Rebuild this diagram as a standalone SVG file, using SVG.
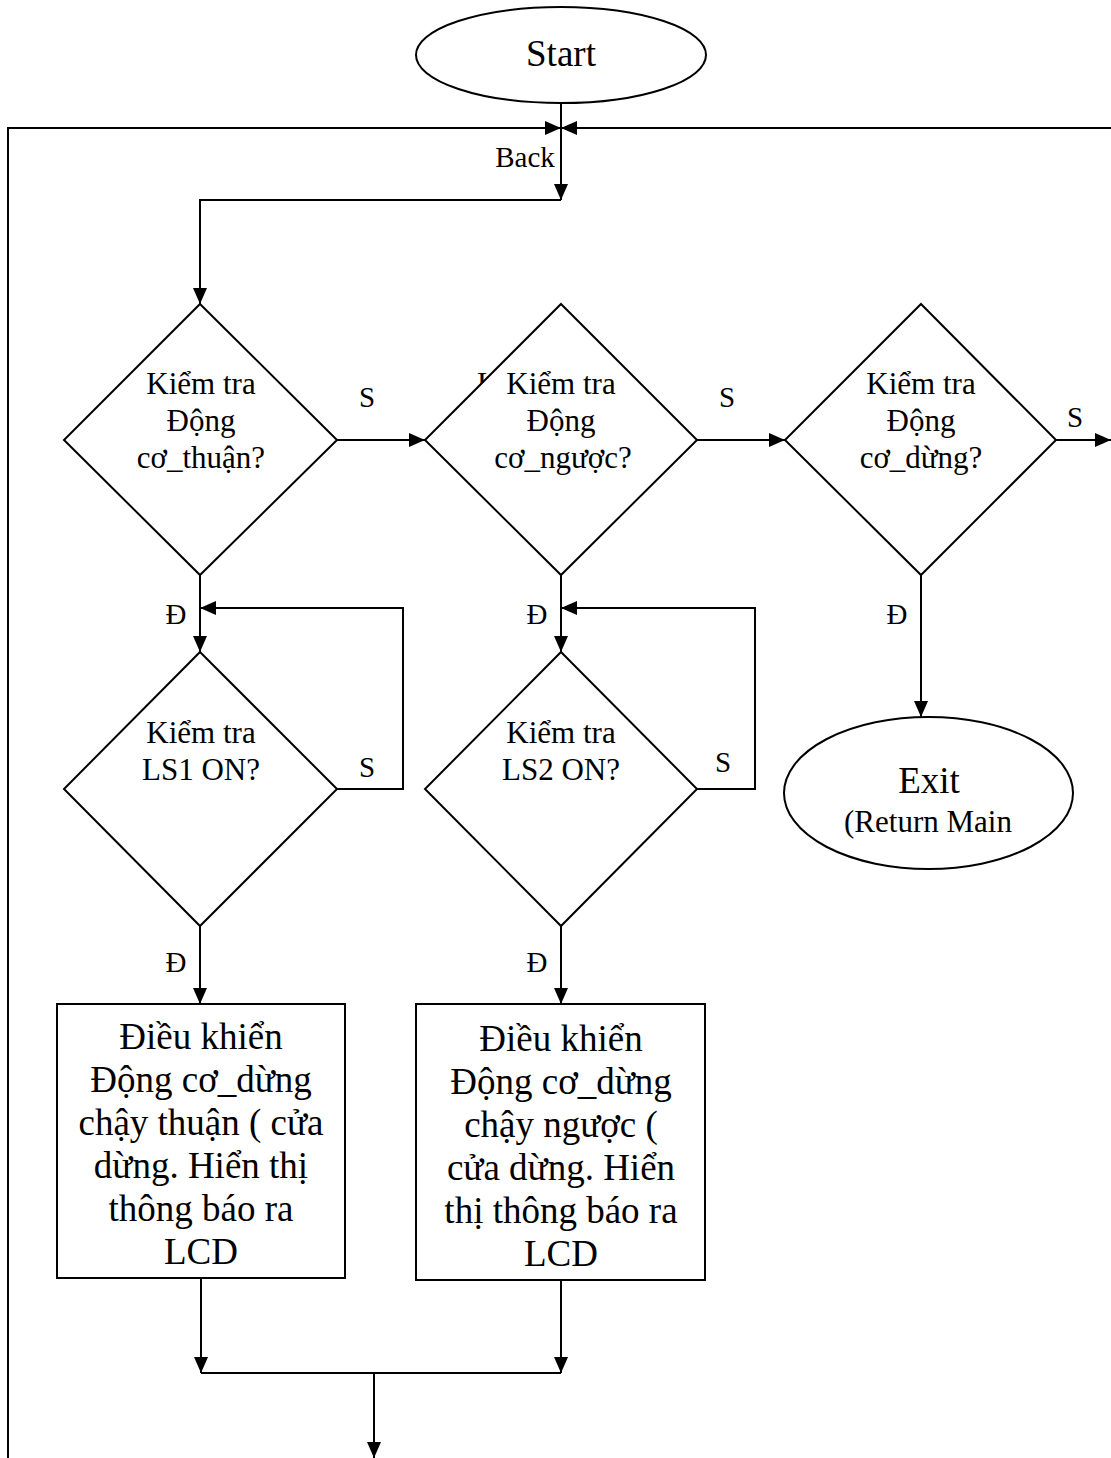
<svg xmlns="http://www.w3.org/2000/svg" width="1111" height="1458" viewBox="0 0 1111 1458">
  <style>
    .shape { fill: #ffffff; stroke: #000000; stroke-width: 2; }
    .line { fill: none; stroke: #000000; stroke-width: 2; }
    text { font-family: "Liberation Serif", "Times New Roman", serif; fill: #000000; }
    .big { font-size: 37px; text-anchor: middle; }
    .mid { font-size: 31px; text-anchor: middle; }
    .lbl { font-size: 29px; text-anchor: middle; }
  </style>
  <defs>
    <marker id="arrow" viewBox="0 0 16 14" markerWidth="16" markerHeight="14" refX="16" refY="7" orient="auto" markerUnits="userSpaceOnUse">
      <path d="M0,0 L16,7 L0,14 z" fill="#000000"/>
    </marker>
  </defs>

  <rect width="1111" height="1458" fill="#ffffff"/>

  <!-- connectors -->
  <g id="connectors">
    <!-- outer return loop -->
    <polyline class="line" points="8,1458 8,128 561,128" marker-end="url(#arrow)"/>
    <line class="line" x1="1111" y1="128" x2="561" y2="128" marker-end="url(#arrow)"/>
    <!-- start down to first check -->
    <line class="line" x1="561" y1="103" x2="561" y2="200" marker-end="url(#arrow)"/>
    <polyline class="line" points="561,200 200,200 200,304" marker-end="url(#arrow)"/>
    <!-- S branches along the top row -->
    <line class="line" x1="337" y1="440" x2="425" y2="440" marker-end="url(#arrow)"/>
    <line class="line" x1="697" y1="440" x2="785" y2="440" marker-end="url(#arrow)"/>
    <line class="line" x1="1056" y1="440" x2="1111" y2="440" marker-end="url(#arrow)"/>
    <!-- D branches down -->
    <line class="line" x1="200" y1="575" x2="200" y2="652" marker-end="url(#arrow)"/>
    <line class="line" x1="561" y1="575" x2="561" y2="652" marker-end="url(#arrow)"/>
    <line class="line" x1="921" y1="575" x2="921" y2="717" marker-end="url(#arrow)"/>
    <!-- limit switch wait loops -->
    <polyline class="line" points="337,789 403,789 403,608 200,608" marker-end="url(#arrow)"/>
    <polyline class="line" points="697,789 755,789 755,608 561,608" marker-end="url(#arrow)"/>
    <!-- to action boxes -->
    <line class="line" x1="200" y1="926" x2="200" y2="1004" marker-end="url(#arrow)"/>
    <line class="line" x1="561" y1="926" x2="561" y2="1004" marker-end="url(#arrow)"/>
    <!-- merge -->
    <line class="line" x1="201" y1="1278" x2="201" y2="1373" marker-end="url(#arrow)"/>
    <line class="line" x1="561" y1="1280" x2="561" y2="1373" marker-end="url(#arrow)"/>
    <line class="line" x1="201" y1="1373" x2="561" y2="1373"/>
    <line class="line" x1="374" y1="1373" x2="374" y2="1458" marker-end="url(#arrow)"/>
  </g>

  <!-- branch labels -->
  <g id="labels">
    <text class="lbl" x="525" y="167" style="text-anchor:middle">Back</text>
    <text class="lbl" x="367" y="407">S</text>
    <text class="lbl" x="727" y="407">S</text>
    <text class="lbl" x="1075" y="427">S</text>
    <text class="lbl" x="367" y="777">S</text>
    <text class="lbl" x="723" y="772">S</text>
    <text class="lbl" x="176" y="624">Đ</text>
    <text class="lbl" x="537" y="624">Đ</text>
    <text class="lbl" x="897" y="624">Đ</text>
    <text class="lbl" x="176" y="972">Đ</text>
    <text class="lbl" x="537" y="972">Đ</text>
  </g>

  <g id="start">
    <ellipse class="shape" cx="561" cy="55" rx="145" ry="48"/>
    <text class="big" x="561" y="66">Start</text>
  </g>

  <g id="check-forward">
    <polygon class="shape" points="200,304 337,440 200,575 64,440"/>
    <text class="mid" x="201" y="394">Kiểm tra</text>
    <text class="mid" x="201" y="431">Động</text>
    <text class="mid" x="201" y="468">cơ_thuận?</text>
  </g>

  <g id="check-reverse">
    <!-- stray letter partly hidden behind the diamond -->
    <text x="477" y="394" style="font-size:31px">K</text>
    <polygon class="shape" points="561,304 697,440 561,575 425,440"/>
    <text class="mid" x="561" y="394">Kiểm tra</text>
    <text class="mid" x="561" y="431">Động</text>
    <text class="mid" x="563" y="468">cơ_ngược?</text>
  </g>

  <g id="check-stop">
    <polygon class="shape" points="921,304 1056,440 921,575 785,440"/>
    <text class="mid" x="921" y="394">Kiểm tra</text>
    <text class="mid" x="921" y="431">Động</text>
    <text class="mid" x="921" y="468">cơ_dừng?</text>
  </g>

  <g id="check-ls1">
    <polygon class="shape" points="200,652 337,789 200,926 64,789"/>
    <text class="mid" x="201" y="743">Kiểm tra</text>
    <text class="mid" x="201" y="780">LS1 ON?</text>
  </g>

  <g id="check-ls2">
    <polygon class="shape" points="561,652 697,789 561,926 425,789"/>
    <text class="mid" x="561" y="743">Kiểm tra</text>
    <text class="mid" x="561" y="780">LS2 ON?</text>
  </g>

  <g id="exit">
    <ellipse class="shape" cx="928.5" cy="793" rx="144.5" ry="76"/>
    <text class="big" x="929" y="793">Exit</text>
    <text class="mid" x="928" y="832">(Return Main</text>
  </g>

  <g id="run-forward">
    <rect class="shape" x="57" y="1004" width="288" height="274"/>
    <text class="big" x="201" y="1049">Điều khiển</text>
    <text class="big" x="201" y="1092">Động cơ_dừng</text>
    <text class="big" x="201" y="1135">chậy thuận ( cửa</text>
    <text class="big" x="201" y="1178">dừng. Hiển thị</text>
    <text class="big" x="201" y="1221">thông báo ra</text>
    <text class="big" x="201" y="1264">LCD</text>
  </g>

  <g id="run-reverse">
    <rect class="shape" x="416" y="1004" width="289" height="276"/>
    <text class="big" x="561" y="1051">Điều khiển</text>
    <text class="big" x="561" y="1094">Động cơ_dừng</text>
    <text class="big" x="561" y="1137">chậy ngược (</text>
    <text class="big" x="561" y="1180">cửa dừng. Hiển</text>
    <text class="big" x="561" y="1223">thị thông báo ra</text>
    <text class="big" x="561" y="1266">LCD</text>
  </g>
</svg>
